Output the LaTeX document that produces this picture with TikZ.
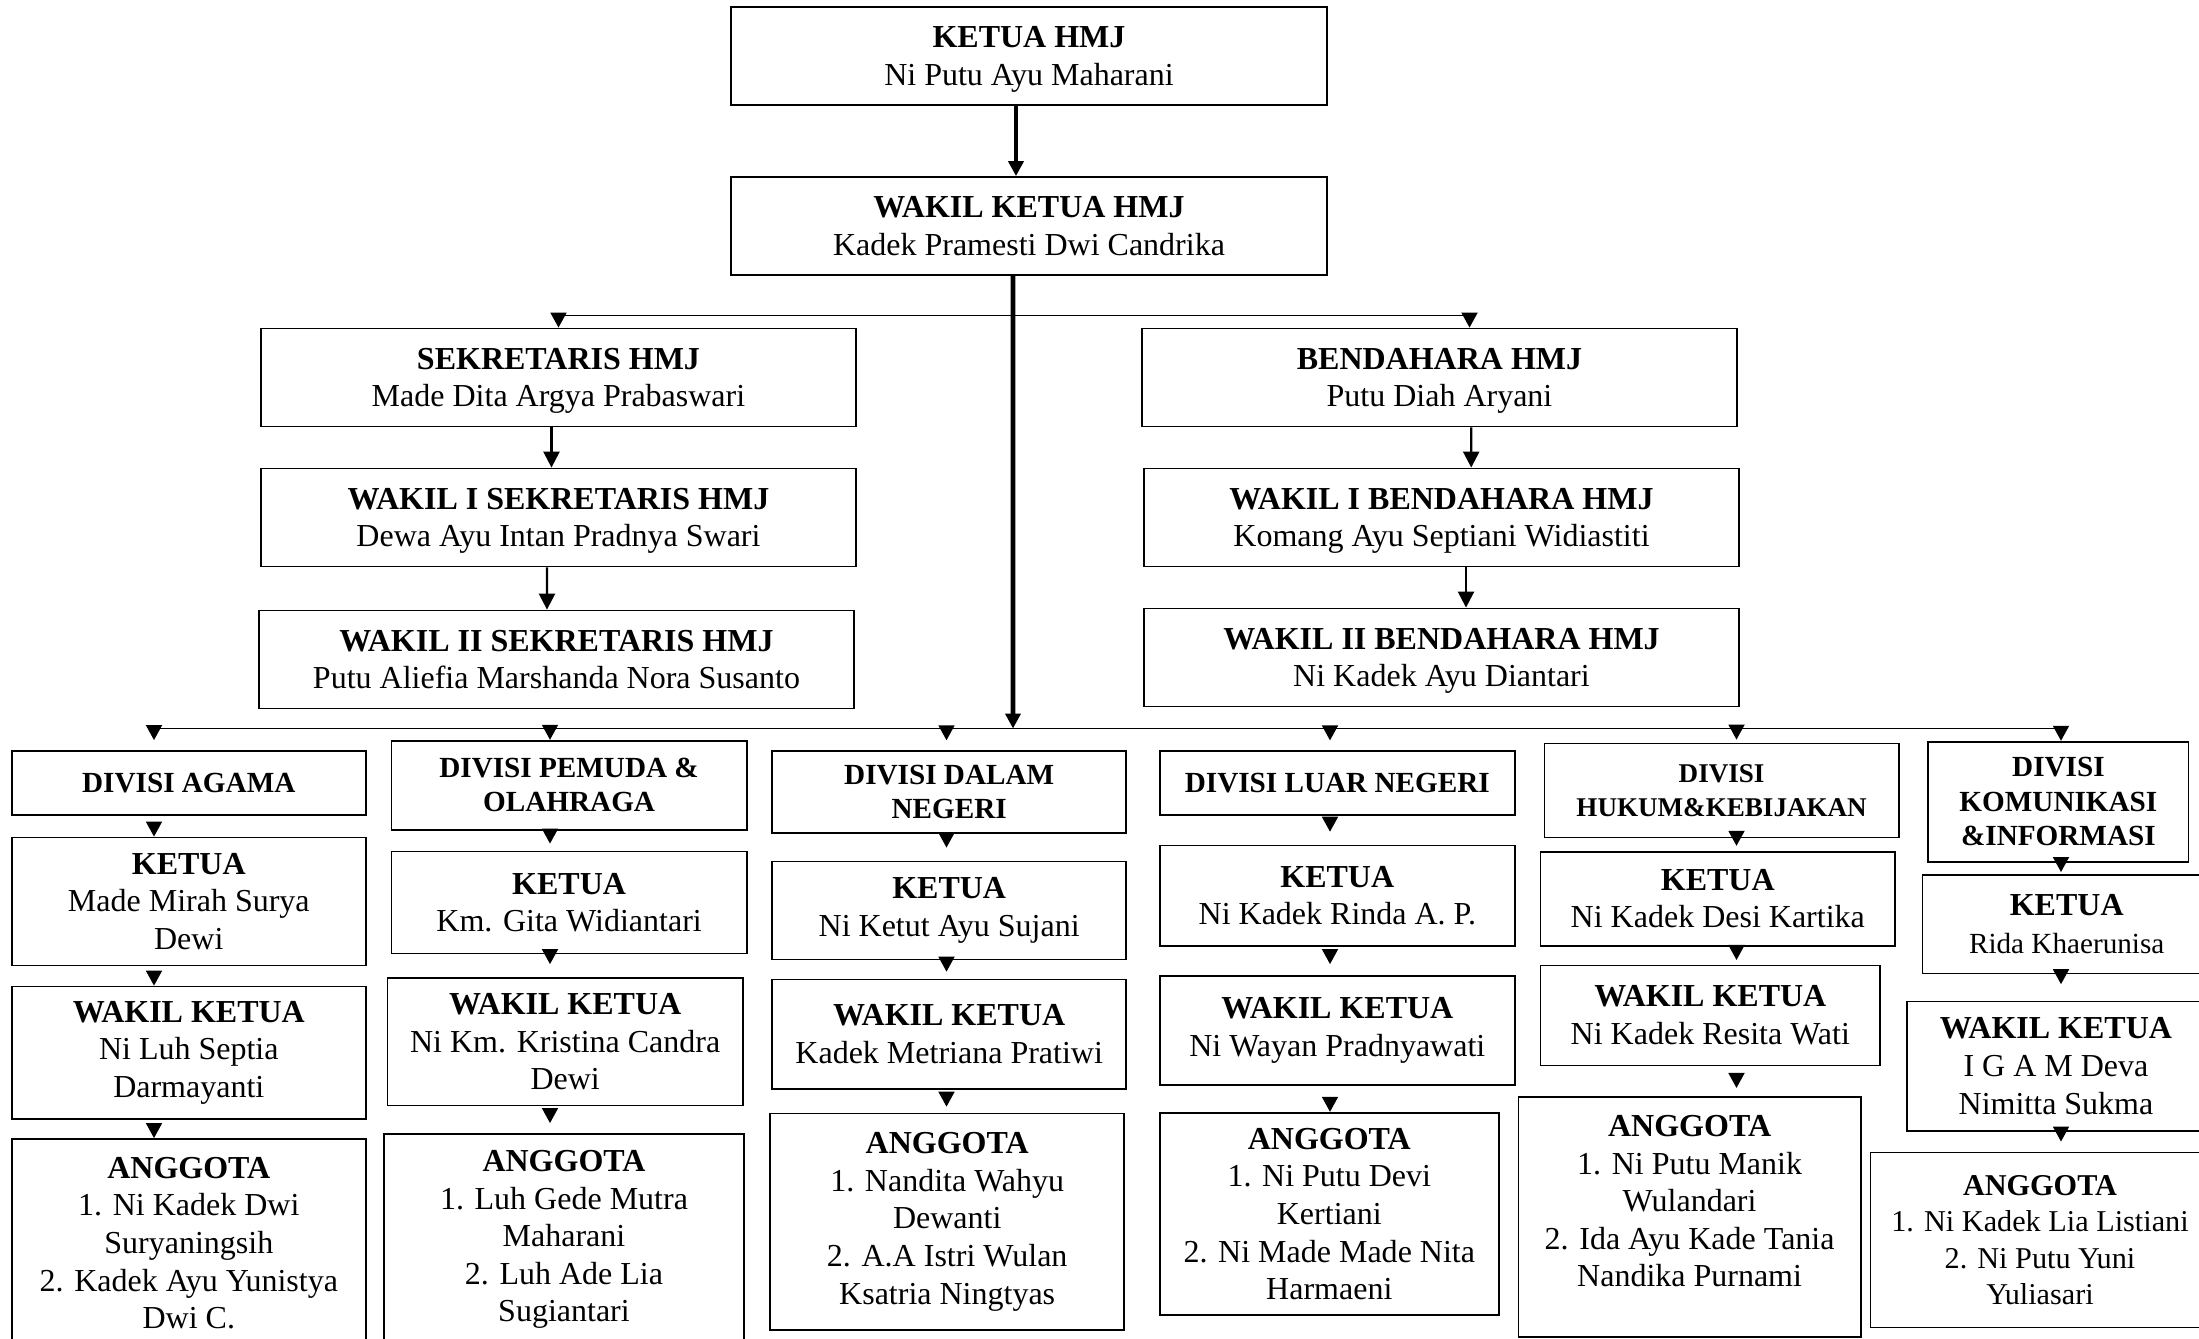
\documentclass[tikz,border=0pt]{standalone}
\usepackage{fontspec}
\setmainfont{Liberation Serif}
\usepackage{tikz}
\usetikzlibrary{arrows.meta, calc}

\tikzset{
	kotak/.style={draw, line width=0.5pt, align=center, inner sep=0pt, font=\fontsize{9.1}{10.7}\selectfont},
	atas/.style={kotak, minimum width=5.95cm, minimum height=0.98cm, text depth=0pt},
	kepala/.style={kotak, font=\fontsize{8.3}{9.6}\selectfont\bfseries},
	panah/.style={-{Triangle[length=0.15cm,width=0.15cm]}, line width=1.3pt},
	panahtipis/.style={-{Triangle[length=0.16cm,width=0.16cm]}, line width=0.7pt},
	tanda/.style={-{Triangle[length=0.15cm,width=0.16cm]}, line width=0.5pt},
	garis/.style={line width=0.5pt}
}

\begin{document}
\begin{tikzpicture}[x=0.01cm, y=-0.01cm]
		\useasboundingbox (0,0) rectangle (2199,1339);
		\clip (0,0) rectangle (2199,1339);

		\coordinate (cabang) at (1013,315.4);
		\coordinate (simpul) at (1013,728.5);
		\coordinate (kA) at (154,728.5);
		\coordinate (kB) at (550,728.5);
		\coordinate (kC) at (946.5,728.5);
		\coordinate (kD) at (1330,728.5);
		\coordinate (kE) at (1736.5,728.5);
		\coordinate (kF) at (2061,728.5);

		\node[atas] (ketua) at (1029,56) {\textbf{KETUA HMJ}\\Ni Putu Ayu Maharani};
		\node[atas] (wakil) at (1029,226) {\textbf{WAKIL KETUA HMJ}\\Kadek Pramesti Dwi Candrika};
		\node[atas] (sek) at (558.5,377.5) {\textbf{SEKRETARIS HMJ}\\Made Dita Argya Prabaswari};
		\node[atas] (wsek1) at (558.5,517.5) {\textbf{WAKIL I SEKRETARIS HMJ}\\Dewa Ayu Intan Pradnya Swari};
		\node[atas] (wsek2) at (556.5,659.5) {\textbf{WAKIL II SEKRETARIS HMJ}\\Putu Aliefia Marshanda Nora Susanto};
		\node[atas] (bend) at (1439.5,377.5) {\textbf{BENDAHARA HMJ}\\Putu Diah Aryani};
		\node[atas] (wbend1) at (1441.5,517.5) {\textbf{WAKIL I BENDAHARA HMJ}\\Komang Ayu Septiani Widiastiti};
		\node[atas] (wbend2) at (1441.5,657.5) {\textbf{WAKIL II BENDAHARA HMJ}\\Ni Kadek Ayu Diantari};

		\node[kepala, minimum width=3.54cm, minimum height=0.64cm] (divA) at (188.8,783) {DIVISI AGAMA};
		\node[kotak, minimum width=3.54cm, minimum height=1.28cm] (ketA) at (188.8,901.5) {\textbf{KETUA}\\Made Mirah Surya\\Dewi};
		\node[kotak, minimum width=3.54cm, minimum height=1.325cm] (wakA) at (188.8,1052.8) {\textbf{WAKIL KETUA}\\Ni Luh Septia\\Darmayanti};
		\node[kotak, minimum width=3.54cm, minimum height=2.08cm] (angA) at (188.8,1243) {\textbf{ANGGOTA}\\1. Ni Kadek Dwi\\Suryaningsih\\2. Kadek Ayu Yunistya\\Dwi C.};

		\node[kepala, minimum width=3.55cm, minimum height=0.89cm] (divB) at (569.1,785.2) {DIVISI PEMUDA \&\\OLAHRAGA};
		\node[kotak, minimum width=3.55cm, minimum height=1.02cm] (ketB) at (569.1,902.5) {\textbf{KETUA}\\Km. Gita Widiantari};
		\node[kotak, minimum width=3.55cm, minimum height=1.275cm] (wakB) at (565.2,1041.8) {\textbf{WAKIL KETUA}\\Ni Km. Kristina Candra\\Dewi};
		\node[kotak, minimum width=3.6cm, minimum height=2.11cm] (angB) at (564,1239.5) {\textbf{ANGGOTA}\\1. Luh Gede Mutra\\Maharani\\2. Luh Ade Lia\\Sugiantari};

		\node[kepala, minimum width=3.54cm, minimum height=0.82cm] (divC) at (949.2,792.2) {DIVISI DALAM\\NEGERI};
		\node[kotak, minimum width=3.54cm, minimum height=0.98cm] (ketC) at (949.2,910.5) {\textbf{KETUA}\\Ni Ketut Ayu Sujani};
		\node[kotak, minimum width=3.54cm, minimum height=1.095cm] (wakC) at (949.2,1034.3) {\textbf{WAKIL KETUA}\\Kadek Metriana Pratiwi};
		\node[kotak, minimum width=3.54cm, minimum height=2.16cm] (angC) at (947.2,1221.6) {\textbf{ANGGOTA}\\1. Nandita Wahyu\\Dewanti\\2. A.A Istri Wulan\\Ksatria Ningtyas};

		\node[kepala, minimum width=3.55cm, minimum height=0.64cm] (divD) at (1337.3,783.3) {DIVISI LUAR NEGERI};
		\node[kotak, minimum width=3.55cm, minimum height=1cm] (ketD) at (1337.3,895.6) {\textbf{KETUA}\\Ni Kadek Rinda A. P.};
		\node[kotak, minimum width=3.55cm, minimum height=1.09cm] (wakD) at (1337.3,1030.5) {\textbf{WAKIL KETUA}\\Ni Wayan Pradnyawati};
		\node[kotak, minimum width=3.39cm, minimum height=2.025cm] (angD) at (1329.3,1214) {\textbf{ANGGOTA}\\1. Ni Putu Devi\\Kertiani\\2. Ni Made Made Nita\\Harmaeni};

		\node[kepala, font=\fontsize{7.7}{9.6}\selectfont\bfseries, minimum width=3.54cm, minimum height=0.94cm] (divE) at (1721.6,790.5) {DIVISI\\HUKUM\&KEBIJAKAN};
		\node[kotak, minimum width=3.545cm, minimum height=0.94cm] (ketE) at (1717.8,898.7) {\textbf{KETUA}\\Ni Kadek Desi Kartika};
		\node[kotak, minimum width=3.395cm, minimum height=1cm] (wakE) at (1710.3,1015.4) {\textbf{WAKIL KETUA}\\Ni Kadek Resita Wati};
		\node[kotak, text depth=9pt, minimum width=3.42cm, minimum height=2.4cm] (angE) at (1689.6,1216.9) {\textbf{ANGGOTA}\\1. Ni Putu Manik\\Wulandari\\2. Ida Ayu Kade Tania\\Nandika Purnami};

		\node[kepala, font=\fontsize{8.3}{9.8}\selectfont\bfseries, minimum width=2.6cm, minimum height=1.2cm] (divF) at (2058.4,801.7) {DIVISI\\KOMUNIKASI\\\&INFORMASI};
		\node[kotak, minimum width=2.885cm, minimum height=0.985cm] (ketF) at (2066.7,924.2) {\textbf{KETUA}\\{\fontsize{8.3}{10.7}\selectfont Rida Khaerunisa}};
		\node[kotak, minimum width=2.98cm, minimum height=1.29cm] (wakF) at (2056,1066.1) {\textbf{WAKIL KETUA}\\I G A M Deva\\Nimitta Sukma};
		\node[kotak, font=\fontsize{8.6}{10.4}\selectfont, minimum width=3.39cm, minimum height=1.75cm] (angF) at (2040,1240) {\textbf{ANGGOTA}\\1. Ni Kadek Lia Listiani\\2. Ni Putu Yuni\\Yuliasari};

		\draw[panah] ([xshift=-0.13cm]ketua.south) -- ([xshift=-0.13cm]wakil.north);
		\draw[panah] ([xshift=-0.16cm]wakil.south) -- (simpul);
		\draw[tanda] (cabang) -| (sek.north);
		\draw[tanda] (cabang) -| ([xshift=0.3cm]bend.north);

		\draw[panahtipis] ([xshift=-0.07cm]sek.south) -- ([xshift=-0.07cm]wsek1.north);
		\draw[panahtipis] ([xshift=-0.115cm]wsek1.south) -- ([xshift=-0.095cm]wsek2.north);
		\draw[panahtipis] ([xshift=0.317cm]bend.south) -- ([xshift=0.297cm]wbend1.north);
		\draw[panahtipis] ([xshift=0.245cm]wbend1.south) -- ([xshift=0.245cm]wbend2.north);

		\draw[garis] (kA) -- (kF);
		\draw[tanda, shorten >=0.1cm] (kA) -- (kA |- divA.north);
		\draw[tanda] (kB) -- (kB |- divB.north);
		\draw[tanda, shorten >=0.1cm] (kC) -- (kC |- divC.north);
		\draw[tanda, shorten >=0.1cm] (kD) -- (kD |- divD.north);
		\draw[tanda, shorten >=0.03cm] (kE) -- (kE |- divE.north);
		\draw[tanda] (kF) -- (kF |- divF.north);

		\draw[tanda, shorten <=0.06cm] (kA |- divA.south) -- (kA |- ketA.north);
		\draw[tanda, shorten <=0.06cm] (kA |- ketA.south) -- (kA |- wakA.north);
		\draw[tanda, shorten <=0.05cm] (kA |- wakA.south) -- (kA |- angA.north);

		\draw[tanda, shorten >=0.07cm] (kB |- divB.south) -- (kB |- ketB.north);
		\draw[tanda, shorten >=0.13cm] (kB |- ketB.south) -- (kB |- wakB.north);
		\draw[tanda, shorten <=0.04cm, shorten >=0.1cm] (kB |- wakB.south) -- (kB |- angB.north);

		\draw[tanda, shorten >=0.13cm] (kC |- divC.south) -- (kC |- ketC.north);
		\draw[tanda, shorten >=0.07cm] (kC |- ketC.south) -- (kC |- wakC.north);
		\draw[tanda, shorten <=0.04cm, shorten >=0.06cm] (kC |- wakC.south) -- (kC |- angC.north);

		\draw[tanda, shorten <=0.02cm, shorten >=0.13cm] (kD |- divD.south) -- (kD |- ketD.north);
		\draw[tanda, shorten <=0.03cm, shorten >=0.11cm] (kD |- ketD.south) -- (kD |- wakD.north);
		\draw[tanda, shorten <=0.12cm] (kD |- wakD.south) -- (kD |- angD.north);

		\draw[tanda, shorten >=0.05cm] (kE |- divE.south) -- (kE |- ketE.north);
		\draw[tanda, shorten >=0.045cm] (kE |- ketE.south) -- (kE |- wakE.north);
		\draw[tanda, shorten <=0.085cm, shorten >=0.08cm] (kE |- wakE.south) -- (kE |- angE.north);

		\draw[tanda, shorten >=0.02cm] (kF |- divF.south) -- (kF |- ketF.north);
		\draw[tanda, shorten >=0.165cm] (kF |- ketF.south) -- (kF |- wakF.north);
		\draw[tanda, shorten >=0.1cm] (kF |- wakF.south) -- (kF |- angF.north);
	\end{tikzpicture}
\end{document}
